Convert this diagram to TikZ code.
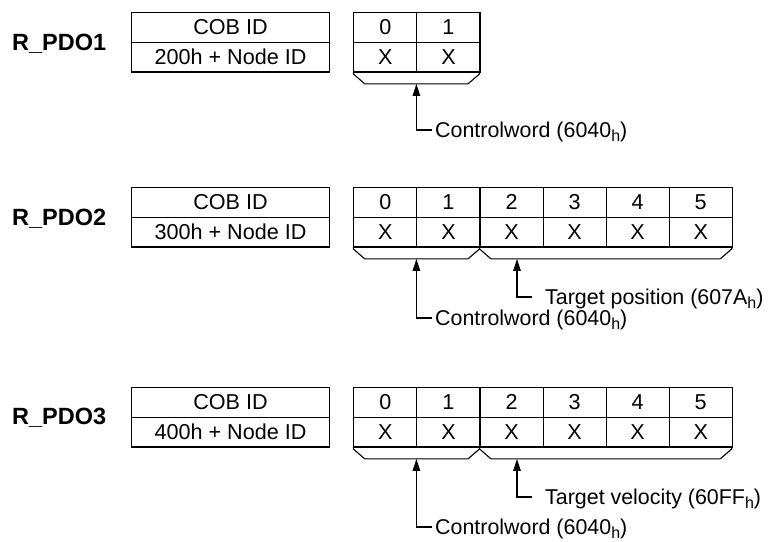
\documentclass[tikz,border=0pt]{standalone}
\usepackage{fontspec}
\setmainfont{Liberation Sans}
\usetikzlibrary{arrows.meta,calc}
\newcommand{\hsub}{\raisebox{-0.33ex}{\fontsize{16}{16}\selectfont h}}
\begin{document}
\begin{tikzpicture}[x=1pt,y=-1pt]
\tikzset{
 cell/.style={draw, line width=1.1pt, minimum height=29.7pt, inner sep=0pt, font=\fontsize{21.6}{24}\selectfont},
 cob/.style={cell, minimum width=198pt, anchor=north west},
 dat/.style={cell, minimum width=63.07pt, anchor=north west},
 lbl/.style={font=\fontsize{23.5}{26}\selectfont\bfseries, anchor=base west, inner sep=0pt},
 note/.style={font=\fontsize{21.4}{24}\selectfont, anchor=west, inner ysep=0pt, inner xsep=3pt, text height=15.3pt, text depth=0pt},
 tnote/.style={note, inner xsep=13pt},
 bracket/.style={line width=1.1pt, line join=miter},
 arr/.style={line width=1.1pt, -{Triangle[length=12pt,width=7.5pt]}}
}
\useasboundingbox (0,0) rectangle (776,541);

% ---------- R_PDO1 ----------
\node[lbl] (p1) at (12,50.5) {R\_PDO1};
\node[cob] (cobA1) at (131,12) {COB ID};
\node[cob] (cobB1) at (131,41.7) {200h + Node ID};
\foreach \k in {0,1} {
  \node[dat] (a\k) at ({353.3+63.07*\k},12) {\k};
  \node[dat] (ax\k) at ({353.3+63.07*\k},41.7) {X};
}
\draw[bracket] (353.3,71.4) -- (353.3,73.9) -- (364.8,83.9) -- (468,83.9) -- (479.5,73.9) -- (479.5,71.4);
\coordinate (b1a) at (416.4,83.9);
\node[note] (ctl1) at (432,130) {Controlword (6040\hsub)};
\draw[arr] (ctl1.west) -| (b1a);

% ---------- R_PDO2 ----------
\node[lbl] (p2) at (12,225.5) {R\_PDO2};
\node[cob] (cobA2) at (131,187) {COB ID};
\node[cob] (cobB2) at (131,216.7) {300h + Node ID};
\foreach \k in {0,...,5} {
  \node[dat] (b\k) at ({353.3+63.07*\k},187) {\k};
  \node[dat] (bx\k) at ({353.3+63.07*\k},216.7) {X};
}
\draw[bracket] (353.3,246.4) -- (353.3,248.9) -- (364.8,258.9) -- (468,258.9) -- (479.5,248.9) -- (479.5,246.4);
\draw[bracket] (479.5,248.9) -- (491,258.9) -- (720.2,258.9) -- (731.7,248.9) -- (731.7,246.4);
\coordinate (b2a) at (416.4,258.9);
\coordinate (b2b) at (517,258.9);
\node[tnote] (tp2) at (532,297) {Target position (607A\hsub)};
\node[note] (ctl2) at (432,318) {Controlword (6040\hsub)};
\draw[arr] (tp2.west) -| (b2b);
\draw[arr] (ctl2.west) -| (b2a);

% ---------- R_PDO3 ----------
\node[lbl] (p3) at (12,424.5) {R\_PDO3};
\node[cob] (cobA3) at (131,387) {COB ID};
\node[cob] (cobB3) at (131,416.7) {400h + Node ID};
\foreach \k in {0,...,5} {
  \node[dat] (c\k) at ({353.3+63.07*\k},387) {\k};
  \node[dat] (cx\k) at ({353.3+63.07*\k},416.7) {X};
}
\draw[bracket] (353.3,446.4) -- (353.3,448.9) -- (364.8,458.9) -- (468,458.9) -- (479.5,448.9) -- (479.5,446.4);
\draw[bracket] (479.5,448.9) -- (491,458.9) -- (720.2,458.9) -- (731.7,448.9) -- (731.7,446.4);
\coordinate (b3a) at (416.4,458.9);
\coordinate (b3b) at (517,458.9);
\node[tnote] (tv3) at (532,497) {Target velocity (60FF\hsub)};
\node[note] (ctl3) at (432,527) {Controlword (6040\hsub)};
\draw[arr] (tv3.west) -| (b3b);
\draw[arr] (ctl3.west) -| (b3a);
\end{tikzpicture}
\end{document}
